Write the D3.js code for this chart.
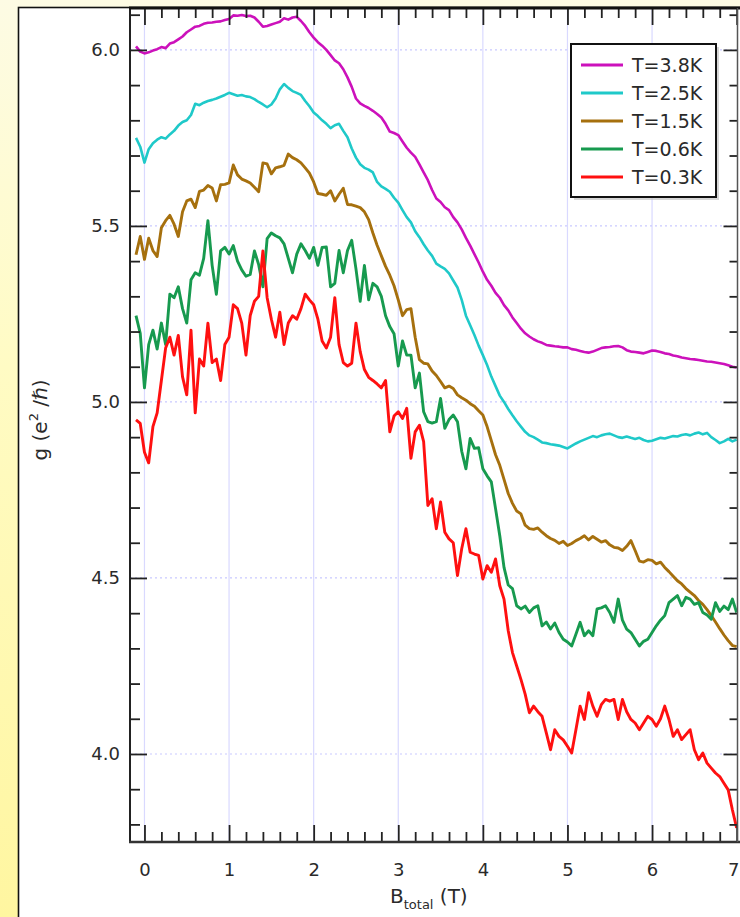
<!DOCTYPE html>
<html>
<head>
<meta charset="utf-8">
<script src="https://cdn.jsdelivr.net/npm/d3@7"></script>
<style>
html, body { margin: 0; padding: 0; background: #fdfbe6; }
svg { display: block; }
text { font-family: "DejaVu Sans", Verdana, sans-serif; fill: #2a2a2a; }
</style>
</head>
<body>
<div id="chart"></div>
<script>
// conductance g (e^2/h) vs total field, one value every 0.05 T from -0.1 T to 7.0 T
var seriesNames = ["T=3.8K", "T=2.5K", "T=1.5K", "T=0.6K", "T=0.3K"];
var seriesColors = ["#cc11bb", "#1fc9c9", "#a6700e", "#179a4f", "#ff1010"];
var bStart = -0.1, bStep = 0.05;

var g38 = [
  6.010, 5.995, 5.990, 5.993, 5.998, 6.002, 6.008, 6.005, 6.018, 6.022,
  6.030, 6.038, 6.050, 6.058, 6.066, 6.068, 6.074, 6.077, 6.078, 6.080,
  6.081, 6.085, 6.088, 6.098, 6.097, 6.099, 6.096, 6.097, 6.092, 6.080,
  6.066, 6.068, 6.072, 6.076, 6.080, 6.090, 6.086, 6.092, 6.094, 6.082,
  6.068, 6.050, 6.035, 6.022, 6.012, 6.000, 5.985, 5.970, 5.962, 5.945,
  5.922, 5.895, 5.862, 5.848, 5.841, 5.835, 5.827, 5.818, 5.808, 5.790,
  5.768, 5.764, 5.758, 5.740, 5.722, 5.708, 5.696, 5.675, 5.652, 5.630,
  5.602, 5.578, 5.568, 5.553, 5.545, 5.525, 5.510, 5.490, 5.466, 5.444,
  5.420, 5.396, 5.370, 5.347, 5.330, 5.310, 5.296, 5.275, 5.260, 5.240,
  5.224, 5.208, 5.195, 5.186, 5.178, 5.172, 5.168, 5.162, 5.160, 5.158,
  5.157, 5.155, 5.155, 5.150, 5.148, 5.145, 5.142, 5.140, 5.143, 5.148,
  5.153, 5.155, 5.156, 5.158, 5.159, 5.155, 5.147, 5.143, 5.142, 5.140,
  5.138, 5.142, 5.146, 5.145, 5.142, 5.138, 5.136, 5.132, 5.130, 5.126,
  5.124, 5.122, 5.121, 5.119, 5.117, 5.115, 5.114, 5.112, 5.110, 5.108,
  5.104, 5.100, 5.098
];
var g25 = [
  5.750, 5.725, 5.680, 5.718, 5.735, 5.745, 5.752, 5.748, 5.760, 5.770,
  5.785, 5.795, 5.800, 5.815, 5.847, 5.843, 5.850, 5.855, 5.858, 5.862,
  5.867, 5.872, 5.878, 5.874, 5.870, 5.872, 5.868, 5.866, 5.860, 5.852,
  5.845, 5.837, 5.845, 5.862, 5.888, 5.903, 5.892, 5.883, 5.878, 5.872,
  5.855, 5.840, 5.822, 5.812, 5.800, 5.790, 5.778, 5.786, 5.790, 5.770,
  5.752, 5.720, 5.694, 5.675, 5.665, 5.660, 5.652, 5.625, 5.612, 5.605,
  5.597, 5.580, 5.566, 5.545, 5.525, 5.510, 5.485, 5.468, 5.448, 5.430,
  5.415, 5.393, 5.385, 5.378, 5.365, 5.345, 5.325, 5.290, 5.245, 5.218,
  5.190, 5.160, 5.133, 5.105, 5.072, 5.045, 5.018, 5.000, 4.980, 4.962,
  4.945, 4.930, 4.915, 4.905, 4.900, 4.893, 4.885, 4.883, 4.880, 4.878,
  4.876, 4.872, 4.868, 4.875, 4.882, 4.888, 4.893, 4.898, 4.903, 4.900,
  4.905, 4.908, 4.910, 4.905, 4.900, 4.898, 4.902, 4.898, 4.895, 4.898,
  4.892, 4.888, 4.890, 4.894, 4.898, 4.896, 4.900, 4.903, 4.902, 4.906,
  4.908, 4.905, 4.910, 4.913, 4.908, 4.912, 4.900, 4.892, 4.883, 4.888,
  4.895, 4.888, 4.893
];
var g15 = [
  5.418, 5.470, 5.405, 5.465, 5.430, 5.413, 5.495, 5.515, 5.530, 5.505,
  5.470, 5.540, 5.571, 5.576, 5.552, 5.598, 5.602, 5.615, 5.608, 5.571,
  5.617, 5.618, 5.622, 5.673, 5.645, 5.633, 5.628, 5.622, 5.610, 5.597,
  5.679, 5.676, 5.648, 5.665, 5.668, 5.672, 5.704, 5.694, 5.688, 5.679,
  5.665, 5.650, 5.625, 5.592, 5.590, 5.587, 5.600, 5.571, 5.590, 5.607,
  5.561, 5.560, 5.556, 5.552, 5.540, 5.518, 5.480, 5.445, 5.415, 5.385,
  5.360, 5.330, 5.290, 5.245, 5.262, 5.265, 5.184, 5.120, 5.110, 5.108,
  5.088, 5.075, 5.058, 5.040, 5.045, 5.038, 5.020, 5.012, 5.005, 4.995,
  4.988, 4.975, 4.963, 4.930, 4.890, 4.850, 4.820, 4.780, 4.740, 4.712,
  4.690, 4.682, 4.650, 4.640, 4.638, 4.642, 4.630, 4.620, 4.612, 4.607,
  4.598, 4.604, 4.592, 4.598, 4.606, 4.612, 4.620, 4.608, 4.618, 4.610,
  4.602, 4.606, 4.594, 4.587, 4.585, 4.578, 4.590, 4.606, 4.578, 4.548,
  4.545, 4.552, 4.550, 4.540, 4.545, 4.530, 4.518, 4.505, 4.492, 4.483,
  4.470, 4.460, 4.450, 4.436, 4.425, 4.410, 4.393, 4.375, 4.356, 4.338,
  4.322, 4.308, 4.305
];
var g06 = [
  5.245, 5.195, 5.040, 5.163, 5.204, 5.150, 5.224, 5.163, 5.306, 5.296,
  5.327, 5.265, 5.224, 5.347, 5.367, 5.360, 5.408, 5.515, 5.388, 5.306,
  5.429, 5.439, 5.420, 5.444, 5.400, 5.375, 5.357, 5.362, 5.429, 5.390,
  5.327, 5.464, 5.480, 5.472, 5.466, 5.449, 5.408, 5.367, 5.420, 5.449,
  5.430, 5.408, 5.439, 5.388, 5.439, 5.440, 5.327, 5.337, 5.430, 5.367,
  5.430, 5.459, 5.378, 5.286, 5.388, 5.290, 5.337, 5.327, 5.300, 5.245,
  5.214, 5.194, 5.102, 5.173, 5.133, 5.133, 5.040, 5.082, 4.972, 4.944,
  4.940, 4.944, 5.010, 4.925, 4.950, 4.963, 4.944, 4.860, 4.810, 4.896,
  4.868, 4.870, 4.810, 4.790, 4.773, 4.697, 4.620, 4.530, 4.480, 4.470,
  4.421, 4.412, 4.420, 4.402, 4.415, 4.421, 4.364, 4.375, 4.355, 4.372,
  4.345, 4.326, 4.318, 4.307, 4.340, 4.374, 4.336, 4.350, 4.336, 4.412,
  4.415, 4.421, 4.402, 4.374, 4.440, 4.380, 4.355, 4.345, 4.326, 4.307,
  4.320, 4.326, 4.345, 4.364, 4.380, 4.393, 4.430, 4.440, 4.450, 4.421,
  4.445, 4.440, 4.425, 4.430, 4.402, 4.395, 4.383, 4.430, 4.405, 4.420,
  4.410, 4.440, 4.402
];
var g03 = [
  4.949, 4.939, 4.857, 4.827, 4.930, 4.969, 5.061, 5.153, 5.184, 5.133,
  5.189, 5.071, 5.020, 5.204, 4.969, 5.122, 5.102, 5.224, 5.112, 5.122,
  5.061, 5.163, 5.184, 5.276, 5.265, 5.224, 5.133, 5.245, 5.286, 5.300,
  5.429, 5.296, 5.235, 5.184, 5.255, 5.163, 5.224, 5.245, 5.235, 5.265,
  5.306, 5.290, 5.276, 5.235, 5.173, 5.153, 5.184, 5.296, 5.163, 5.112,
  5.102, 5.110, 5.224, 5.143, 5.092, 5.070, 5.061, 5.051, 5.040, 5.061,
  4.915, 4.960, 4.972, 4.953, 4.982, 4.840, 4.915, 4.934, 4.887, 4.706,
  4.725, 4.640, 4.716, 4.630, 4.611, 4.600, 4.507, 4.583, 4.640, 4.573,
  4.568, 4.564, 4.497, 4.535, 4.516, 4.554, 4.478, 4.440, 4.350, 4.288,
  4.250, 4.212, 4.170, 4.117, 4.136, 4.120, 4.107, 4.060, 4.012, 4.069,
  4.050, 4.040, 4.022, 4.003, 4.069, 4.136, 4.098, 4.174, 4.136, 4.107,
  4.140, 4.155, 4.150, 4.155, 4.098, 4.155, 4.120, 4.098, 4.088, 4.069,
  4.088, 4.107, 4.098, 4.079, 4.100, 4.136, 4.098, 4.050, 4.069, 4.041,
  4.055, 4.069, 4.012, 3.984, 4.003, 3.974, 3.960, 3.946, 3.936, 3.917,
  3.898, 3.841, 3.790
];
var seriesValues = [g38, g25, g15, g06, g03];

var xMajorTicks = [0, 1, 2, 3, 4, 5, 6, 7];
var yMajorTicks = [4.0, 4.5, 5.0, 5.5, 6.0];

var width = 740, height = 917;
var plot = {left: 130, right: 737.5, top: 8, bottom: 842};

var svg = d3.select("#chart").append("svg")
    .attr("width", width)
    .attr("height", height);

var defs = svg.append("defs");
var grad = defs.append("linearGradient")
    .attr("id", "bgGrad")
    .attr("x1", 0).attr("y1", 0).attr("x2", 0).attr("y2", 1);
grad.append("stop").attr("offset", "0%").attr("stop-color", "#fdfbe4");
grad.append("stop").attr("offset", "40%").attr("stop-color", "#fffbc4");
grad.append("stop").attr("offset", "100%").attr("stop-color", "#fff6a0");
defs.append("clipPath").attr("id", "plotClip")
  .append("rect")
    .attr("x", plot.left).attr("y", plot.top)
    .attr("width", plot.right - plot.left).attr("height", plot.bottom - plot.top);

// page background + white panel
svg.append("rect")
    .attr("width", width).attr("height", height)
    .attr("fill", "url(#bgGrad)");
svg.append("rect")
    .attr("x", 18.5).attr("y", 7.5)
    .attr("width", 800).attr("height", 1000)
    .attr("fill", "#fff")
    .attr("stroke", "#111")
    .attr("stroke-width", 1.6);

var x = d3.scaleLinear().domain([-0.171, 7.01]).range([plot.left, plot.right]);
var y = d3.scaleLinear().domain([3.75, 6.119]).range([plot.bottom, plot.top]);

var xMinor = d3.range(0, 7.01, 0.2).filter(function(d) { return Math.abs(d - Math.round(d)) > 0.01; });
var yMinor = d3.range(3.8, 6.11, 0.1).filter(function(d) { return Math.abs(d * 2 - Math.round(d * 2)) > 0.01; });

// grid
var grid = svg.append("g").attr("class", "grid");
grid.selectAll("line.v")
    .data(xMajorTicks.filter(function(d) { return d < 7; }))
  .enter().append("line")
    .attr("class", "v")
    .attr("x1", function(d) { return x(d); })
    .attr("x2", function(d) { return x(d); })
    .attr("y1", plot.top).attr("y2", plot.bottom)
    .attr("stroke", "#d9d9ff")
    .attr("stroke-width", 1.2);
grid.selectAll("line.h")
    .data(yMajorTicks)
  .enter().append("line")
    .attr("class", "h")
    .attr("x1", plot.left).attr("x2", plot.right)
    .attr("y1", function(d) { return y(d); })
    .attr("y2", function(d) { return y(d); })
    .attr("stroke", "#c9c9ff")
    .attr("stroke-width", 1.2)
    .attr("stroke-dasharray", "2,3");

// curves
var line = d3.line()
    .x(function(d, i) { return x(bStart + i * bStep); })
    .y(function(d) { return y(d); });

svg.append("g")
    .attr("clip-path", "url(#plotClip)")
  .selectAll("path")
    .data(seriesValues)
  .enter().append("path")
    .attr("d", line)
    .attr("fill", "none")
    .attr("stroke", function(d, i) { return seriesColors[i]; })
    .attr("stroke-width", function(d, i) { return i < 2 ? 2.6 : 2.9; })
    .attr("stroke-linejoin", "round");

// axes
function styleAxis(g) {
    g.select(".domain").remove();
    g.selectAll(".tick line").attr("stroke", "#222").attr("stroke-width", 1.8);
    g.selectAll(".tick text")
        .style("font-family", "'DejaVu Sans', Verdana, sans-serif")
        .style("font-size", "18px")
        .attr("fill", "#2e2e2e");
}

var xAxisMain = svg.append("g")
    .attr("transform", "translate(0," + plot.bottom + ")")
    .call(d3.axisBottom(x).tickValues(xMajorTicks).tickSize(-17).tickPadding(21).tickFormat(d3.format("d")))
    .call(styleAxis);
// last label sits on the right edge: keep it inside the page
xAxisMain.selectAll(".tick text")
    .filter(function(d) { return d === 7; })
    .attr("text-anchor", "end")
    .attr("x", 739 - x(7));
svg.append("g")
    .attr("transform", "translate(0," + plot.bottom + ")")
    .call(d3.axisBottom(x).tickValues(xMinor).tickSize(-10).tickFormat(""))
    .call(styleAxis);
svg.append("g")
    .attr("transform", "translate(0," + plot.top + ")")
    .call(d3.axisTop(x).tickValues(xMajorTicks).tickSize(-17).tickFormat(""))
    .call(styleAxis);
svg.append("g")
    .attr("transform", "translate(0," + plot.top + ")")
    .call(d3.axisTop(x).tickValues(xMinor).tickSize(-10).tickFormat(""))
    .call(styleAxis);

svg.append("g")
    .attr("transform", "translate(" + plot.left + ",0)")
    .call(d3.axisLeft(y).tickValues(yMajorTicks).tickSize(-17).tickPadding(10).tickFormat(d3.format(".1f")))
    .call(styleAxis);
svg.append("g")
    .attr("transform", "translate(" + plot.left + ",0)")
    .call(d3.axisLeft(y).tickValues(yMinor).tickSize(-10).tickFormat(""))
    .call(styleAxis);
svg.append("g")
    .attr("transform", "translate(" + plot.right + ",0)")
    .call(d3.axisRight(y).tickValues(yMajorTicks).tickSize(-14).tickFormat(""))
    .call(styleAxis);
svg.append("g")
    .attr("transform", "translate(" + plot.right + ",0)")
    .call(d3.axisRight(y).tickValues(yMinor).tickSize(-8).tickFormat(""))
    .call(styleAxis);

// frame
svg.append("line")
    .attr("x1", plot.left).attr("x2", plot.left)
    .attr("y1", plot.top).attr("y2", plot.bottom)
    .attr("stroke", "#222").attr("stroke-width", 2);
svg.append("line")
    .attr("x1", plot.left - 1).attr("x2", width)
    .attr("y1", plot.bottom).attr("y2", plot.bottom)
    .attr("stroke", "#333").attr("stroke-width", 2.5);
svg.append("line")
    .attr("x1", plot.left - 1).attr("x2", width)
    .attr("y1", plot.top).attr("y2", plot.top)
    .attr("stroke", "#111").attr("stroke-width", 3);
svg.append("line")
    .attr("x1", plot.right).attr("x2", plot.right)
    .attr("y1", plot.top).attr("y2", plot.bottom)
    .attr("stroke", "#555").attr("stroke-width", 1.5);

// axis titles
var xTitle = svg.append("text")
    .attr("x", 390).attr("y", 903)
    .style("font-size", "20px");
xTitle.append("tspan").text("B");
xTitle.append("tspan").attr("dy", 6).style("font-size", "13px").text("total");
xTitle.append("tspan").attr("dy", -6).text(" (T)");

var yTitle = svg.append("text")
    .attr("transform", "translate(47,420) rotate(-90)")
    .attr("text-anchor", "middle")
    .style("font-size", "20px");
yTitle.append("tspan").text("g (e");
yTitle.append("tspan").attr("dy", -9).style("font-size", "13px").text("2");
yTitle.append("tspan").attr("dy", 9).text(" /\u210F)");

// legend
var legend = svg.append("g").attr("transform", "translate(571,44)");
legend.append("rect")
    .attr("x", 3).attr("y", 3).attr("width", 145).attr("height", 153)
    .attr("fill", "#bbb").attr("opacity", 0.6);
legend.append("rect")
    .attr("width", 145).attr("height", 153)
    .attr("fill", "#fff").attr("stroke", "#111").attr("stroke-width", 2);
var item = legend.selectAll("g.item")
    .data(seriesNames)
  .enter().append("g")
    .attr("class", "item")
    .attr("transform", function(d, i) { return "translate(0," + (21 + i * 28) + ")"; });
item.append("line")
    .attr("x1", 10).attr("x2", 52)
    .attr("stroke", function(d, i) { return seriesColors[i]; })
    .attr("stroke-width", 3);
item.append("text")
    .attr("x", 61).attr("y", 7)
    .style("font-size", "19px")
    .text(function(d) { return d; });
</script>
</body>
</html>
